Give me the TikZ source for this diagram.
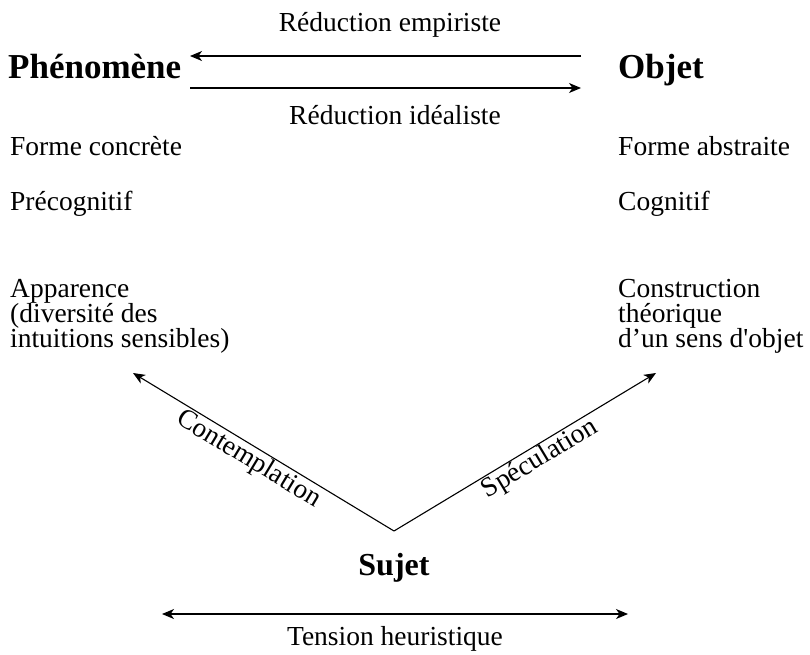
\documentclass[tikz,border=0pt]{standalone}
\usepackage{fontspec}
\setmainfont{Liberation Serif}
\newfontfamily\rawserif{Liberation Serif}
\usetikzlibrary{arrows.meta}
\tikzset{
  txt/.style={inner sep=0pt, font=\fontsize{27.5}{25}\selectfont},
  bigtxt/.style={inner sep=0pt, font=\fontsize{35}{38}\selectfont\bfseries},
  arr/.style={line width=1.1pt, -{Stealth[length=12pt,width=10pt,inset=3.5pt]}},
  darr/.style={line width=1.1pt, {Stealth[length=12pt,width=10pt,inset=3.5pt]}-{Stealth[length=12pt,width=10pt,inset=3.5pt]}},
  lbl/.style={font=\fontsize{27.5}{25}\selectfont, inner sep=1pt}
}
\begin{document}
\begin{tikzpicture}[x=1pt,y=-1pt]
\useasboundingbox (0,0) rectangle (810,654);
% top labels
\node[txt, anchor=base] (re) at (390,31) {Réduction empiriste};
\node[bigtxt, anchor=base west] (phen) at (8,78) {Phénomène};
\node[bigtxt, anchor=base west] (obj) at (618,78) {Objet};
\node[txt, anchor=base] (ri) at (395,124) {Réduction idéaliste};
\coordinate (t1) at (581,56);
\coordinate (t2) at (190,56);
\coordinate (b1) at (190,88);
\coordinate (b2) at (581,88);
\draw[arr] (t1) -- (t2);
\draw[arr] (b1) -- (b2);
% columns
\node[txt, anchor=base west] (fc) at (10,155) {Forme concrète};
\node[txt, anchor=base west] (fa) at (618,155) {Forme abstraite};
\node[txt, anchor=base west] (pc) at (10,210) {Précognitif};
\node[txt, anchor=base west] (cg) at (618,210) {Cognitif};
\node[txt, anchor=base west, align=left] (app) at (10,347) {Apparence\\(diversité des\\intuitions sensibles)};
\node[txt, anchor=base west, align=left] (con) at (618,347) {Construction\\théorique\\d’un sens d{\rawserif '}objet};
% V
\coordinate (v) at (394,531);
\coordinate (lt) at (133,373);
\coordinate (rt) at (656,373);
\draw[arr] (v) -- node[lbl, sloped, below, pos=0.53] (ctp) {Contemplation} (lt);
\draw[arr] (v) -- node[lbl, sloped, below, pos=0.53] (spc) {Spéculation} (rt);
\node[bigtxt, anchor=base, font=\fontsize{32}{36}\selectfont\bfseries] (suj) at (394,575) {Sujet};
% bottom
\coordinate (h1) at (162,614);
\coordinate (h2) at (628,614);
\draw[darr] (h1) -- (h2);
\node[txt, anchor=base] (th) at (395,645) {Tension heuristique};
\end{tikzpicture}
\end{document}
